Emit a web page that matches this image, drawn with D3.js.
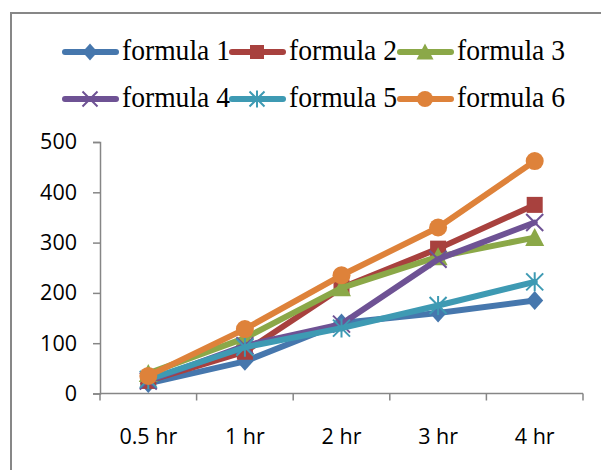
<!DOCTYPE html>
<html><head><meta charset="utf-8">
<script src="https://cdn.jsdelivr.net/npm/d3@7"></script>
<style>body{margin:0;background:#fff}svg{display:block}</style>
</head><body>
<svg id="c" width="601" height="470"></svg>
<script>
const categories = ["0.5 hr", "1 hr", "2 hr", "3 hr", "4 hr"];
const seriesNames = ["formula 1", "formula 2", "formula 3", "formula 4", "formula 5", "formula 6"];
const formula1 = [20, 64, 140, 160, 185];
const formula2 = [25, 83, 210, 288, 375];
const formula3 = [40, 110, 210, 272, 310];
const formula4 = [25, 95, 138, 267, 340];
const formula5 = [28, 92, 130, 175, 222];
const formula6 = [35, 128, 235, 330, 462];
const yTicks = [0, 100, 200, 300, 400, 500];
const colors = ["#4677AD", "#A8413E", "#8BA848", "#6E5294", "#3E9AB3", "#DE823A"];
const markers = ["diamond", "square", "triangle", "x", "star", "circle"];

const values = [formula1, formula2, formula3, formula4, formula5, formula6];
const svg = d3.select("#c");
const labelFont = "Open Sans, Liberation Sans, Arial, sans-serif";

// outer border
svg.append("rect").attr("x", 11).attr("y", 13).attr("width", 800).attr("height", 800)
  .attr("fill", "none").attr("stroke", "#878787").attr("stroke-width", 2);

const x = d3.scaleBand().domain(categories).range([100, 583]).padding(0);
const y = d3.scaleLinear().domain([0, 500]).range([393.5, 142]);
const axisColor = "#868686";

// y axis
const ya = svg.append("g").attr("transform", "translate(100,0)")
  .call(d3.axisLeft(y).tickValues(yTicks).tickSize(7).tickPadding(16).tickFormat(d3.format("d")));
ya.select(".domain").attr("stroke", axisColor).attr("stroke-width", 1.5);
ya.selectAll(".tick line").attr("stroke", axisColor).attr("stroke-width", 1.5);
ya.selectAll(".tick text").attr("font-family", labelFont)
  .attr("font-size", 21.5).attr("fill", "#000");

// x axis
const xTickScale = d3.scaleLinear().domain([0, categories.length]).range([100, 583]);
const xa = svg.append("g").attr("transform", `translate(0,${y(0)})`);
xa.append("line").attr("x1", 100).attr("x2", 583).attr("y1", 0).attr("y2", 0)
  .attr("stroke", axisColor).attr("stroke-width", 1.5);
xa.selectAll("line.t").data(d3.range(categories.length + 1)).join("line").attr("class", "t")
  .attr("x1", d => xTickScale(d)).attr("x2", d => xTickScale(d)).attr("y1", 0).attr("y2", 7)
  .attr("stroke", axisColor).attr("stroke-width", 1.5);
xa.selectAll("text").data(categories).join("text")
  .attr("x", d => x(d) + x.bandwidth() / 2).attr("y", 50.5)
  .attr("text-anchor", "middle")
  .attr("font-family", labelFont).attr("font-size", 21.5).text(d => d);

function drawMarker(g, type, cx, cy, color, s) {
  const h = s / 2;
  if (type === "diamond") {
    g.append("path").attr("d", `M${cx},${cy-h-1}L${cx+h},${cy}L${cx},${cy+h+1}L${cx-h},${cy}Z`).attr("fill", color);
  } else if (type === "square") {
    g.append("rect").attr("x", cx - h + 0.5).attr("y", cy - h + 0.5).attr("width", s - 1).attr("height", s - 1).attr("fill", color);
  } else if (type === "triangle") {
    g.append("path").attr("d", `M${cx},${cy-h-1}L${cx+h+1},${cy+h}L${cx-h-1},${cy+h}Z`).attr("fill", color);
  } else if (type === "circle") {
    g.append("circle").attr("cx", cx).attr("cy", cy).attr("r", h + 0.5).attr("fill", color);
  } else if (type === "x") {
    g.append("path").attr("d", `M${cx-h},${cy-h}L${cx+h},${cy+h}M${cx-h},${cy+h}L${cx+h},${cy-h}`)
      .attr("stroke", color).attr("stroke-width", 2);
  } else if (type === "star") {
    g.append("path").attr("d", `M${cx-h},${cy-h}L${cx+h},${cy+h}M${cx-h},${cy+h}L${cx+h},${cy-h}M${cx},${cy-h-1}L${cx},${cy+h+1}`)
      .attr("stroke", color).attr("stroke-width", 2);
  }
}

const line = d3.line().x(d => d[0]).y(d => d[1]);
values.forEach((vals, i) => {
  const g = svg.append("g");
  const pts = vals.map((v, j) => [x(categories[j]) + x.bandwidth() / 2, y(v)]);
  g.append("path").attr("d", line(pts)).attr("fill", "none").attr("stroke", colors[i])
    .attr("stroke-width", 6).attr("stroke-linejoin", "round").attr("stroke-linecap", "round");
  pts.forEach(p => drawMarker(g, markers[i], p[0], p[1], colors[i], 17));
});

// legend
const legendX = [65, 232, 400];
const legendY = [52, 99];
seriesNames.forEach((name, i) => {
  const lx = legendX[i % 3], ly = legendY[Math.floor(i / 3)];
  const g = svg.append("g");
  g.append("line").attr("x1", lx).attr("x2", lx + 51).attr("y1", ly).attr("y2", ly)
    .attr("stroke", colors[i]).attr("stroke-width", 6).attr("stroke-linecap", "round");
  drawMarker(g, markers[i], lx + 25, ly, colors[i], 15);
  g.append("text").attr("x", lx + 57).attr("y", ly + 8)
    .attr("font-family", "Liberation Serif, Times New Roman, serif").attr("font-size", 29)
    .attr("textLength", 108).attr("lengthAdjust", "spacingAndGlyphs")
    .attr("fill", "#000").text(name);
});
</script>
</body></html>
